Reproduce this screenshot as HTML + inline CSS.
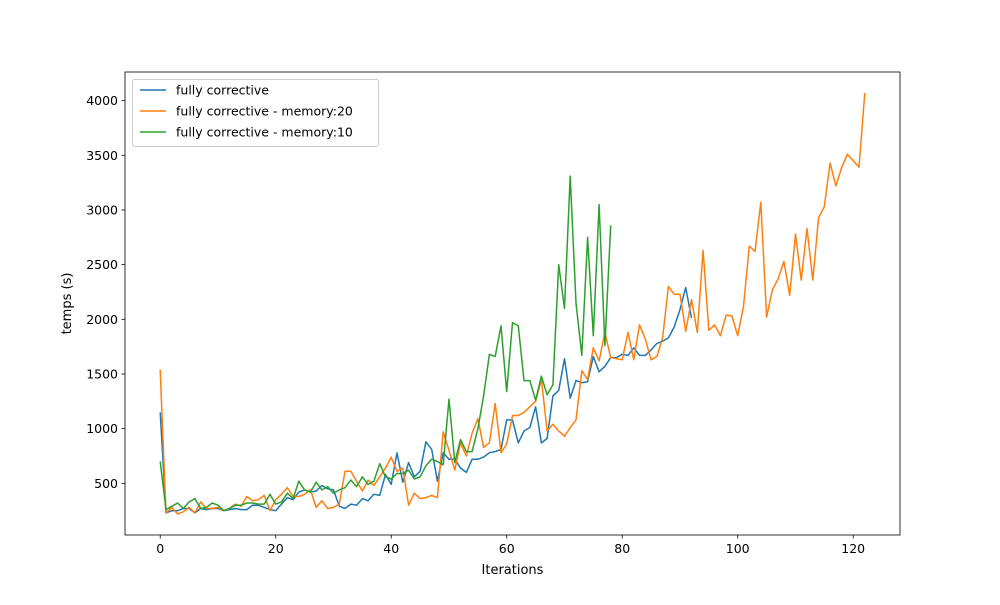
<!DOCTYPE html>
<html><head><meta charset="utf-8"><style>
body{margin:0;background:#fff}
svg{font-family:"DejaVu Sans","Liberation Sans",sans-serif}
</style></head><body>
<svg id="chart" width="1000" height="600" xmlns="http://www.w3.org/2000/svg">
<rect width="1000" height="600" fill="#fff"/>
<g id="plot"></g>
</svg>
<script>
const blueValues=[1150,230,250,250,270,270,230,270,260,270,270,250,260,270,260,260,300,300,280,260,250,310,370,350,420,440,420,430,480,450,440,290,270,310,300,360,340,400,390,580,490,780,510,690,560,610,880,810,520,780,720,720,640,600,720,720,740,780,790,810,1080,1080,870,980,1010,1200,870,910,1300,1350,1640,1280,1440,1420,1430,1660,1520,1570,1650,1650,1680,1670,1740,1670,1670,1720,1780,1800,1830,1930,2090,2290,2010];
const orangeValues=[1540,230,280,220,240,280,230,330,270,270,280,250,270,310,290,380,340,350,390,250,350,400,460,380,380,400,440,280,340,270,280,310,610,610,520,430,530,480,560,640,740,610,640,300,410,360,370,390,370,970,800,620,870,750,960,1090,830,870,1230,780,860,1120,1120,1150,1200,1250,1450,980,1040,980,930,1010,1080,1530,1450,1740,1620,1880,1650,1640,1630,1880,1630,1950,1820,1630,1660,1830,2300,2230,2230,1890,2180,1880,2630,1900,1950,1850,2040,2030,1850,2120,2670,2620,3070,2020,2270,2370,2530,2220,2780,2360,2830,2360,2930,3030,3430,3220,3390,3510,3450,3390,4070];
const greenValues=[700,260,290,320,270,330,360,270,280,320,300,250,270,300,300,320,320,310,310,400,310,330,410,360,520,440,420,510,440,470,410,440,460,530,470,560,490,520,680,560,540,590,590,620,540,560,660,720,700,670,1270,690,900,790,790,1000,1300,1680,1660,1940,1340,1970,1940,1440,1440,1260,1480,1310,1400,2500,2100,3310,2150,1670,2750,1850,3050,1760,2860];
const xTicks=[0,20,40,60,80,100,120];
const yTicks=[500,1000,1500,2000,2500,3000,3500,4000];
const seriesNames=["fully corrective","fully corrective - memory:20","fully corrective - memory:10"];
const L=125,R=900,T=72,B=535;
const xMin=-6.1,xMax=128.1,yMin=27.5,yMax=4262;
const xs=v=>L+(v-xMin)/(xMax-xMin)*(R-L);
const ys=v=>B-(v-yMin)/(yMax-yMin)*(B-T);
const NS="http://www.w3.org/2000/svg";
const g=document.getElementById('plot');
function mk(t,a,p){const e=document.createElementNS(NS,t);for(const k in a)e.setAttribute(k,a[k]);(p||g).appendChild(e);return e;}
const colors=["#1f77b4","#ff7f0e","#2ca02c"];
[blueValues,orangeValues,greenValues].forEach((arr,i)=>{
  const p=mk('polyline',{points:arr.map((v,j)=>xs(j).toFixed(1)+','+ys(v).toFixed(1)).join(' '),fill:'none',stroke:colors[i],'stroke-width':1.5,'stroke-linejoin':'round'});
  
  
});
const frame=mk('rect',{x:L,y:T,width:R-L,height:B-T,fill:'none',stroke:'#000','stroke-width':0.8});


xTicks.forEach(t=>{
  const x=xs(t);
  mk('line',{x1:x,x2:x,y1:B,y2:B+3.5,stroke:'#000','stroke-width':0.8});
  const tx=mk('text',{x:x,y:B+18,'text-anchor':'middle','font-size':12.5,fill:'#000'});tx.textContent=t;
  
  
});
yTicks.forEach(t=>{
  const y=ys(t);
  mk('line',{x1:L-3.5,x2:L,y1:y,y2:y,stroke:'#000','stroke-width':0.8});
  const tx=mk('text',{x:L-7,y:y+4.5,'text-anchor':'end','font-size':12.5,fill:'#000'});tx.textContent=t;
  
  
});
const xt=mk('text',{x:(L+R)/2,y:574,'text-anchor':'middle','font-size':13});xt.textContent='Iterations';


const yt=mk('text',{x:0,y:0,'text-anchor':'middle','font-size':13,transform:'translate(71,'+((T+B)/2)+') rotate(-90)'});yt.textContent='temps (s)';


const lg=mk('g',{});


mk('rect',{x:132.5,y:79.5,width:246,height:67,rx:2,fill:'#fff','fill-opacity':0.8,stroke:'#ccc'},lg);
seriesNames.forEach((n,i)=>{
  const y=90+i*21;
  const ln=mk('line',{x1:140,x2:166,y1:y,y2:y,stroke:colors[i],'stroke-width':1.5},lg);
  
  
  const tx=mk('text',{x:176,y:y+4.5,'font-size':12.5},lg);tx.textContent=n;
  
  
});
</script>
</body></html>
